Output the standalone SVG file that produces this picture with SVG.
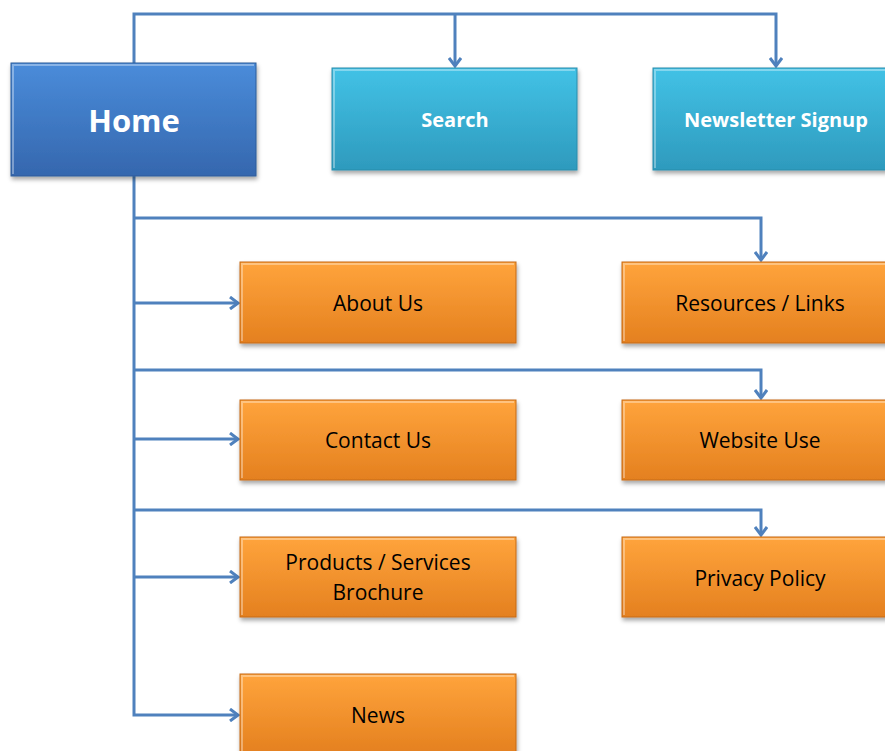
<svg xmlns="http://www.w3.org/2000/svg" width="885" height="751" viewBox="0 0 885 751">
<defs>
<linearGradient id="gBlue" x1="0" y1="0" x2="0" y2="1"><stop offset="0" stop-color="#4A8CDA"/><stop offset="1" stop-color="#3567AE"/></linearGradient>
<linearGradient id="gCyan" x1="0" y1="0" x2="0" y2="1"><stop offset="0" stop-color="#42C2E6"/><stop offset="1" stop-color="#2E9ABD"/></linearGradient>
<linearGradient id="gOrange" x1="0" y1="0" x2="0" y2="1"><stop offset="0" stop-color="#FFA43C"/><stop offset="1" stop-color="#E4801F"/></linearGradient>
<filter id="sh" x="-5%" y="-5%" width="115%" height="125%"><feDropShadow dx="1" dy="3" stdDeviation="2" flood-color="#000" flood-opacity="0.35"/></filter>
<marker id="arr" markerWidth="14" markerHeight="14" viewBox="0 0 14 14" refX="12" refY="7" orient="auto" markerUnits="userSpaceOnUse"><polyline points="4,1 12,7 4,13" fill="none" stroke="#4F81BD" stroke-width="3"/></marker>
</defs>
<style>
.c{fill:none;stroke:#4F81BD;stroke-width:3}
.box{filter:url(#sh);stroke-width:1}
.blue{fill:url(#gBlue);stroke:#2F5D9A}
.cyan{fill:url(#gCyan);stroke:#2A8CAB}
.org{fill:url(#gOrange);stroke:#C56A16}
.hl{fill:none;stroke:#fff;stroke-opacity:0.35;stroke-width:2}
.tw{fill:#fff;font-family:"Open Sans","Liberation Sans",sans-serif;font-weight:bold;text-anchor:middle}
.tb{fill:#000;font-family:"Open Sans","Liberation Sans",sans-serif;font-size:21px;text-anchor:middle}
</style>
<rect width="885" height="751" fill="#fff"/>
<g id="connectors">
<polyline class="c" points="134,63 134,14 776,14 776,66" marker-end="url(#arr)"/>
<polyline class="c" points="455,14 455,66" marker-end="url(#arr)"/>
<polyline class="c" points="134,176 134,715 238,715" marker-end="url(#arr)"/>
<polyline class="c" points="134,303 238,303" marker-end="url(#arr)"/>
<polyline class="c" points="134,439 238,439" marker-end="url(#arr)"/>
<polyline class="c" points="134,577 238,577" marker-end="url(#arr)"/>
<polyline class="c" points="134,218 761,218 761,260" marker-end="url(#arr)"/>
<polyline class="c" points="134,370 761,370 761,398" marker-end="url(#arr)"/>
<polyline class="c" points="134,510 761,510 761,535" marker-end="url(#arr)"/>
</g>
<g id="home"><rect class="box blue" x="11" y="63" width="245" height="113"/><polyline class="hl" points="13,174 13,65 254,65"/><text class="tw" x="134" y="132" font-size="31">Home</text></g>
<g id="search"><rect class="box cyan" x="332" y="68" width="245" height="102"/><polyline class="hl" points="334,168 334,70 575,70"/><text class="tw" x="455" y="127" font-size="20">Search</text></g>
<g id="newsletter"><rect class="box cyan" x="653" y="68" width="245" height="102"/><polyline class="hl" points="655,168 655,70 896,70"/><text class="tw" x="776" y="127" font-size="20">Newsletter Signup</text></g>
<g id="about"><rect class="box org" x="240" y="262" width="276" height="81"/><polyline class="hl" points="242,341 242,264 514,264"/><text class="tb" x="378" y="311">About Us</text></g>
<g id="contact"><rect class="box org" x="240" y="400" width="276" height="80"/><polyline class="hl" points="242,478 242,402 514,402"/><text class="tb" x="378" y="448">Contact Us</text></g>
<g id="products"><rect class="box org" x="240" y="537" width="276" height="80"/><polyline class="hl" points="242,615 242,539 514,539"/><text class="tb" x="378" y="570">Products / Services</text><text class="tb" x="378" y="600">Brochure</text></g>
<g id="news"><rect class="box org" x="240" y="674" width="276" height="80"/><polyline class="hl" points="242,752 242,676 514,676"/><text class="tb" x="378" y="723">News</text></g>
<g id="resources"><rect class="box org" x="622" y="262" width="276" height="81"/><polyline class="hl" points="624,341 624,264 896,264"/><text class="tb" x="760" y="311">Resources / Links</text></g>
<g id="websiteuse"><rect class="box org" x="622" y="400" width="276" height="80"/><polyline class="hl" points="624,478 624,402 896,402"/><text class="tb" x="760" y="448">Website Use</text></g>
<g id="privacy"><rect class="box org" x="622" y="537" width="276" height="80"/><polyline class="hl" points="624,615 624,539 896,539"/><text class="tb" x="760" y="586">Privacy Policy</text></g>
</svg>
